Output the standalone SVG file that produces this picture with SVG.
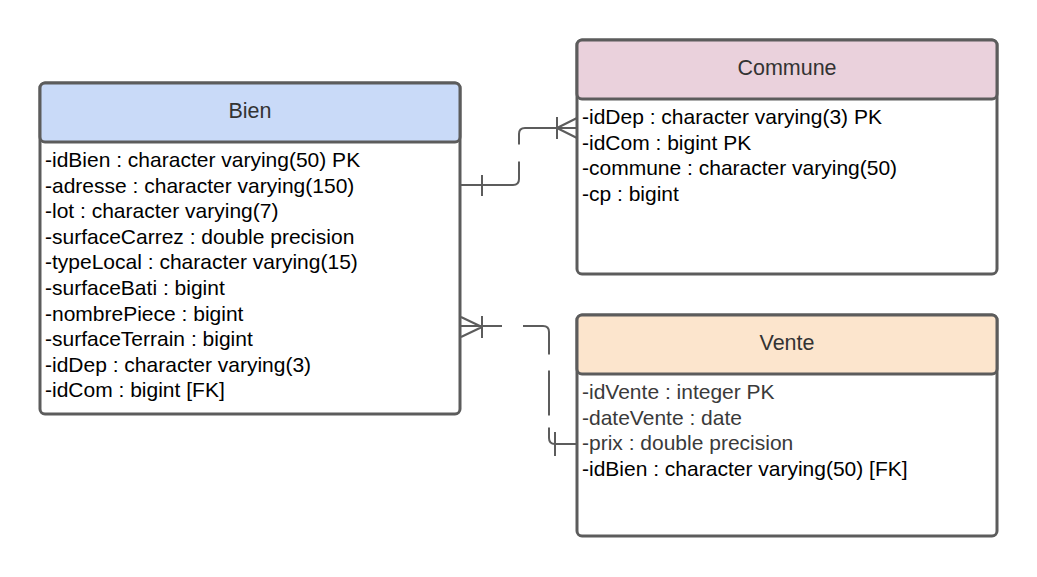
<svg xmlns="http://www.w3.org/2000/svg" width="1037" height="577" viewBox="0 0 1037 577">
<style>
.box{fill:#ffffff;stroke:#5c5c5c;stroke-width:3}
.hdr{stroke:#5c5c5c;stroke-width:3}
.title{font-family:"Liberation Sans",Arial,sans-serif;font-size:21.5px;fill:#333333;text-anchor:middle}
.row{font-family:"Liberation Sans",Arial,sans-serif;font-size:21px;fill:#000000}
.grey{fill:#3a3a3a}
.ln{fill:none;stroke:#5c5c5c;stroke-width:2}
</style>
<g id="connectors">
  <path class="ln" d="M460,185 H513 Q519,185 519,179 V134 Q519,128 525,128 H577" stroke-dasharray="80 17"/>
  <path class="ln" d="M482,175 V196"/>
  <path class="ln" d="M557,117 V139 M557,128 L577,118 M557,128 L577,138"/>
  <path class="ln" d="M460,326 H543 Q549,326 549,332 V438 Q549,444 555,444 H577" stroke-dasharray="42 21 52 16 45 12"/>
  <path class="ln" d="M482,316 V338 M482,327 L461,317 M482,327 L461,337"/>
  <path class="ln" d="M555,432 V456"/>
</g>
<g id="bien">
  <rect class="box" x="40" y="83" width="420" height="331" rx="5"/>
  <rect class="hdr" x="40" y="83" width="420" height="59" rx="5" fill="#c9daf8"/>
  <text class="title" x="250" y="118">Bien</text>
  <text class="row" x="45" y="167">-idBien : character varying(50) PK</text>
  <text class="row" x="45" y="192.6">-adresse : character varying(150)</text>
  <text class="row" x="45" y="218.2">-lot : character varying(7)</text>
  <text class="row" x="45" y="243.8">-surfaceCarrez : double precision</text>
  <text class="row" x="45" y="269.4">-typeLocal : character varying(15)</text>
  <text class="row" x="45" y="295">-surfaceBati : bigint</text>
  <text class="row" x="45" y="320.6">-nombrePiece : bigint</text>
  <text class="row" x="45" y="346.2">-surfaceTerrain : bigint</text>
  <text class="row" x="45" y="371.8">-idDep : character varying(3)</text>
  <text class="row" x="45" y="397.4">-idCom : bigint [FK]</text>
</g>
<g id="commune">
  <rect class="box" x="577" y="40" width="420" height="234" rx="5"/>
  <rect class="hdr" x="577" y="40" width="420" height="59" rx="5" fill="#ead1dc"/>
  <text class="title" x="787" y="75">Commune</text>
  <text class="row" x="582" y="124">-idDep : character varying(3) PK</text>
  <text class="row" x="582" y="149.6">-idCom : bigint PK</text>
  <text class="row" x="582" y="175.2">-commune : character varying(50)</text>
  <text class="row" x="582" y="200.8">-cp : bigint</text>
</g>
<g id="vente">
  <rect class="box" x="577" y="315" width="420" height="221" rx="5"/>
  <rect class="hdr" x="577" y="315" width="420" height="59" rx="5" fill="#fce5cd"/>
  <text class="title" x="787" y="350">Vente</text>
  <text class="row grey" x="582" y="399">-idVente : integer PK</text>
  <text class="row grey" x="582" y="424.6">-dateVente : date</text>
  <text class="row grey" x="582" y="450.2">-prix : double precision</text>
  <text class="row" x="582" y="475.8">-idBien : character varying(50) [FK]</text>
</g>
</svg>
